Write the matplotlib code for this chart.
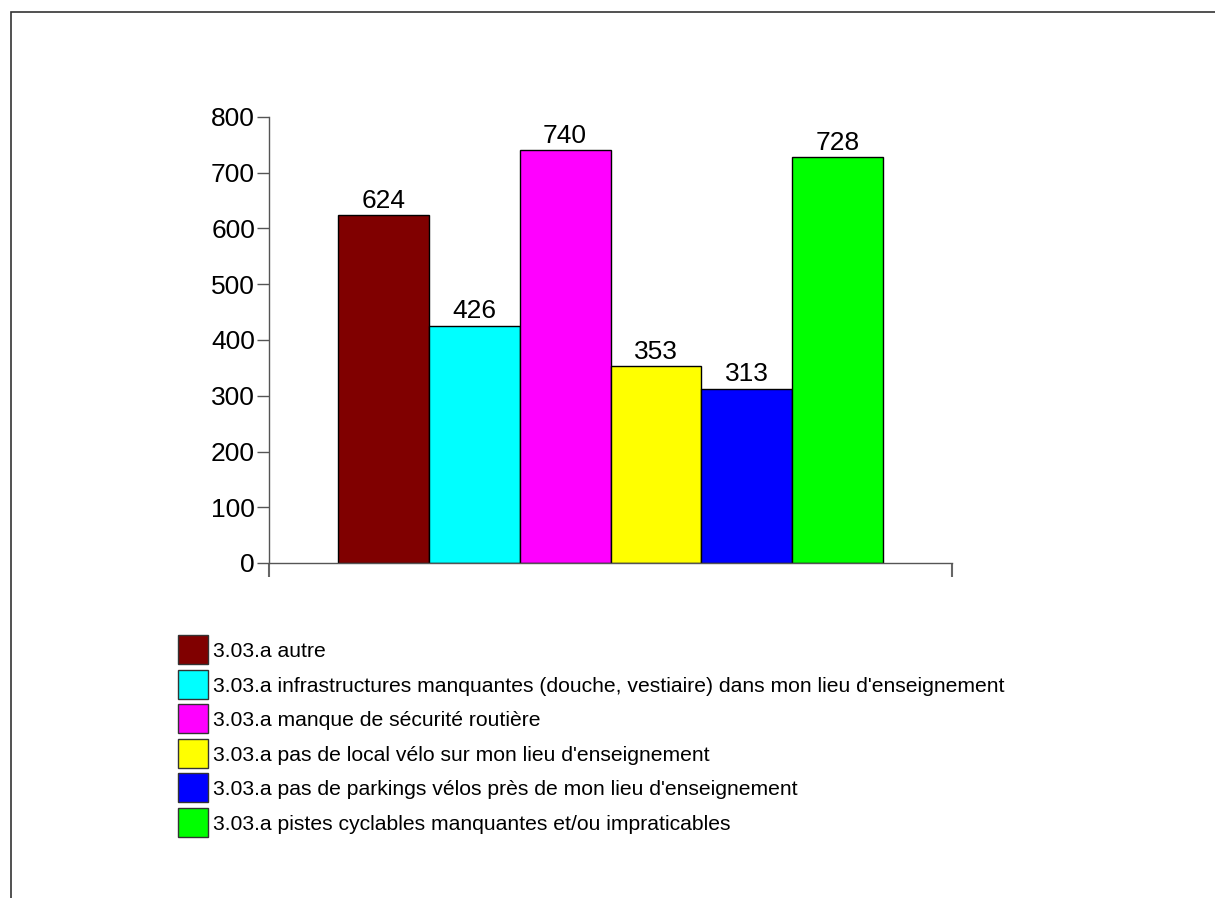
import matplotlib
matplotlib.use("Agg")
import matplotlib.pyplot as plt
from matplotlib.patches import Rectangle

labels = [
    "3.03.a autre",
    "3.03.a infrastructures manquantes (douche, vestiaire) dans mon lieu d'enseignement",
    "3.03.a manque de sécurité routière",
    "3.03.a pas de local vélo sur mon lieu d'enseignement",
    "3.03.a pas de parkings vélos près de mon lieu d'enseignement",
    "3.03.a pistes cyclables manquantes et/ou impraticables",
]
values = [624, 426, 740, 353, 313, 728]
colors = ["#800000", "#00ffff", "#ff00ff", "#ffff00", "#0000ff", "#00ff00"]
yticks = [0, 100, 200, 300, 400, 500, 600, 700, 800]

plt.rcParams['font.family'] = ['Liberation Sans', 'DejaVu Sans']

W, H = 1215, 898
fig = plt.figure(figsize=(W / 100, H / 100), dpi=100)
ax = fig.add_axes([269 / W, 1 - 563 / H, (952 - 269) / W, (563 - 117) / H])

xs = list(range(len(values)))
ax.bar(xs, values, width=1.0, color=colors, edgecolor="black", linewidth=1)
for x, v in zip(xs, values):
    ax.text(x, v + 4, str(v), ha="center", va="bottom", fontsize=19)

pad = 69 / 91
xmin, xmax = -0.5 - pad, len(values) - 0.5 + pad
ax.set_xlim(xmin, xmax)
ax.set_ylim(0, 800)
ax.set_yticks(yticks)
ax.set_yticklabels([str(t) for t in yticks], fontsize=19)
ax.set_xticks([xmin, xmax])
ax.set_xticklabels(["", ""])
ax.tick_params(axis="y", direction="out", length=9, width=1, color="#555555", pad=1)
ax.tick_params(axis="x", direction="out", length=10, width=1.5, color="#666666")
for s in ["top", "right"]:
    ax.spines[s].set_visible(False)
for s in ["left", "bottom"]:
    ax.spines[s].set_color("#555555")
    ax.spines[s].set_linewidth(1)

# legend drawn by hand: square swatch + label, one row per category
box_x, box_w, box_h = 178, 30, 29
top0, pitch = 635, 34.6
for i, (lab, c) in enumerate(zip(labels, colors)):
    top = top0 + i * pitch
    fig.add_artist(Rectangle((box_x / W, 1 - (top + box_h) / H), box_w / W, box_h / H,
                             transform=fig.transFigure, facecolor=c,
                             edgecolor="#333333", linewidth=1))
    fig.text(213 / W, 1 - (top + box_h / 2) / H, lab, ha="left", va="center_baseline",
             fontsize=15.2)

fig.add_artist(Rectangle((11 / W, -0.1), 1.5, 1 - 12 / H + 0.1, transform=fig.transFigure,
                         fill=False, edgecolor="#333333", linewidth=1.2))

fig.savefig("out.png", dpi=100)
